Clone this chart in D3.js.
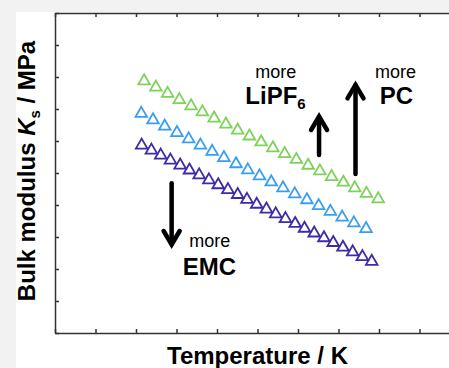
<!DOCTYPE html>
<html><head><meta charset="utf-8">
<script src="https://cdn.jsdelivr.net/npm/d3@7"></script>
<style>html,body{margin:0;padding:0;background:#f2f2f2;overflow:hidden}svg{display:block}</style>
</head><body><svg id="c" width="449" height="368"></svg>
<script>
// ---- data ----
const tempGreen = [272.0, 274.9, 277.8, 280.7, 283.6, 286.4, 289.3, 292.2, 295.1, 298.0, 300.9, 303.8, 306.7, 309.6, 312.5, 315.4, 318.3, 321.2, 324.0, 326.9, 329.8];
const modGreen  = [1787.5, 1767.8, 1748.3, 1728.8, 1709.5, 1690.4, 1671.3, 1652.4, 1633.7, 1615.1, 1596.5, 1578.2, 1559.9, 1541.8, 1523.8, 1506.0, 1488.3, 1470.7, 1453.3, 1435.9, 1418.8];
const tempBlue  = [271.3, 274.2, 277.1, 280.1, 283.0, 285.9, 288.8, 291.7, 294.7, 297.6, 300.5, 303.4, 306.3, 309.2, 312.2, 315.1, 318.0, 320.9, 323.8, 326.8];
const modBlue   = [1685.9, 1665.8, 1645.8, 1625.9, 1606.1, 1586.5, 1567.0, 1547.7, 1528.4, 1509.3, 1490.4, 1471.6, 1452.9, 1434.3, 1415.9, 1397.6, 1379.5, 1361.5, 1343.6, 1325.8];
const tempPurple = [271.4, 273.8, 276.1, 278.5, 280.9, 283.2, 285.6, 288.0, 290.3, 292.7, 295.1, 297.4, 299.8, 302.2, 304.5, 306.9, 309.3, 311.6, 314.0, 316.4, 318.7, 321.1, 323.5, 325.9, 328.2];
const modPurple  = [1586.6, 1570.9, 1555.3, 1539.8, 1524.3, 1508.9, 1493.5, 1478.1, 1462.8, 1447.5, 1432.3, 1417.1, 1401.9, 1386.8, 1371.8, 1356.8, 1341.8, 1326.8, 1312.0, 1297.1, 1282.3, 1267.6, 1252.8, 1238.2, 1223.6];
const xTicks = [250, 260, 270, 280, 290, 300, 310, 320, 330, 340, 350];
const yTicks = [1000, 1100, 1200, 1300, 1400, 1500, 1600, 1700, 1800, 1900, 2000];
const xLabel = "Temperature / K";
const seriesColors = ["#80d15c", "#3a9ef0", "#3d2ca6"];

const series = [
  {t: tempGreen, v: modGreen, c: seriesColors[0]},
  {t: tempBlue, v: modBlue, c: seriesColors[1]},
  {t: tempPurple, v: modPurple, c: seriesColors[2]}
];

const FONT = "'Liberation Sans', Arial, Helvetica, sans-serif";
const svg = d3.select('#c');
svg.append('rect').attr('x',16).attr('y',12).attr('width',433).attr('height',356).attr('fill','#fff');

const x = d3.scaleLinear().domain([250,350]).range([55,460]);
const y = d3.scaleLinear().domain([1000,2000]).range([333,13]);

function styleAxis(g){
  g.select('.domain').attr('stroke','#333').attr('stroke-width',1.5);
  g.selectAll('.tick line').attr('stroke','#333').attr('stroke-width',1.5);
  g.selectAll('.tick text').remove();
}
svg.append('g').attr('transform','translate(0,333)')
  .call(d3.axisBottom(x).tickValues(xTicks).tickSize(-4).tickSizeOuter(0).tickFormat('')).call(styleAxis);
svg.append('g').attr('transform','translate(0,13)')
  .call(d3.axisTop(x).tickValues(xTicks).tickSize(-4).tickSizeOuter(0).tickFormat('')).call(styleAxis);
svg.append('g').attr('transform','translate(55,0)')
  .call(d3.axisLeft(y).tickValues(yTicks).tickSize(-4).tickSizeOuter(0).tickFormat('')).call(styleAxis);
svg.append('g').attr('transform','translate(460,0)')
  .call(d3.axisRight(y).tickValues(yTicks).tickSize(-4).tickSizeOuter(0).tickFormat('')).call(styleAxis);

const tri = d3.symbol(d3.symbolTriangle, 58);
series.forEach(s => {
  svg.append('g').selectAll('path').data(s.t.map((t,i)=>[t,s.v[i]])).join('path')
    .attr('d', tri)
    .attr('transform', d => `translate(${x(d[0])},${y(d[1])})`)
    .attr('fill','none').attr('stroke', s.c).attr('stroke-width',1.8);
});

// axis labels
svg.append('text').attr('x',257.5).attr('y',364).attr('text-anchor','middle')
  .attr('font-family',FONT).attr('font-weight','bold').attr('font-size',24).attr('fill','#000').text(xLabel);
const yl = svg.append('text').attr('transform','translate(35,171) rotate(-90)').attr('text-anchor','middle')
  .attr('font-family',FONT).attr('font-weight','bold').attr('font-size',24).attr('fill','#000');
yl.append('tspan').text('Bulk modulus ');
yl.append('tspan').attr('font-style','italic').text('K');
yl.append('tspan').attr('font-size',15).attr('dy',5).text('s');
yl.append('tspan').attr('dy',-5).text(' / MPa');

// annotations (data coordinates)
function txt(t, v, s, size, bold, anchor){
  return svg.append('text').attr('x',x(t)).attr('y',y(v)).attr('text-anchor',anchor||'middle')
    .attr('font-family',FONT).attr('font-weight',bold?'bold':'normal').attr('font-size',size).attr('fill','#000').text(s);
}
txt(304.5, 1797.5, 'more', 18, false);
const lp = txt(297.0, 1714.7, 'LiPF', 24, true, 'start');
lp.append('tspan').attr('font-size',15).attr('dy',5).text('6');
txt(334.1, 1796.9, 'more', 18, false);
txt(334.3, 1715.6, 'PC', 24, true);
txt(288.2, 1268.8, 'more', 18, false);
txt(288.1, 1181.3, 'EMC', 24, true);

function arrow(t, vFrom, vTo){
  const X = x(t), y0 = y(vFrom), y1 = y(vTo);
  const dir = y1 < y0 ? 1 : -1; // 1 = pointing up
  svg.append('line').attr('x1',X).attr('x2',X).attr('y1',y0).attr('y2',y1+dir*2)
    .attr('stroke','#000').attr('stroke-width',4.5).attr('stroke-linecap','round');
  svg.append('path').attr('d',`M${X-8},${y1+dir*15}L${X},${y1+dir*1.5}L${X+8},${y1+dir*15}`)
    .attr('fill','none').attr('stroke','#000').attr('stroke-width',4.5).attr('stroke-linejoin','miter').attr('stroke-linecap','round');
}
arrow(324.2, 1496.9, 1780.3);
arrow(315.2, 1556.3, 1681.3);
arrow(278.8, 1467.8, 1271.9);
</script></body></html>
